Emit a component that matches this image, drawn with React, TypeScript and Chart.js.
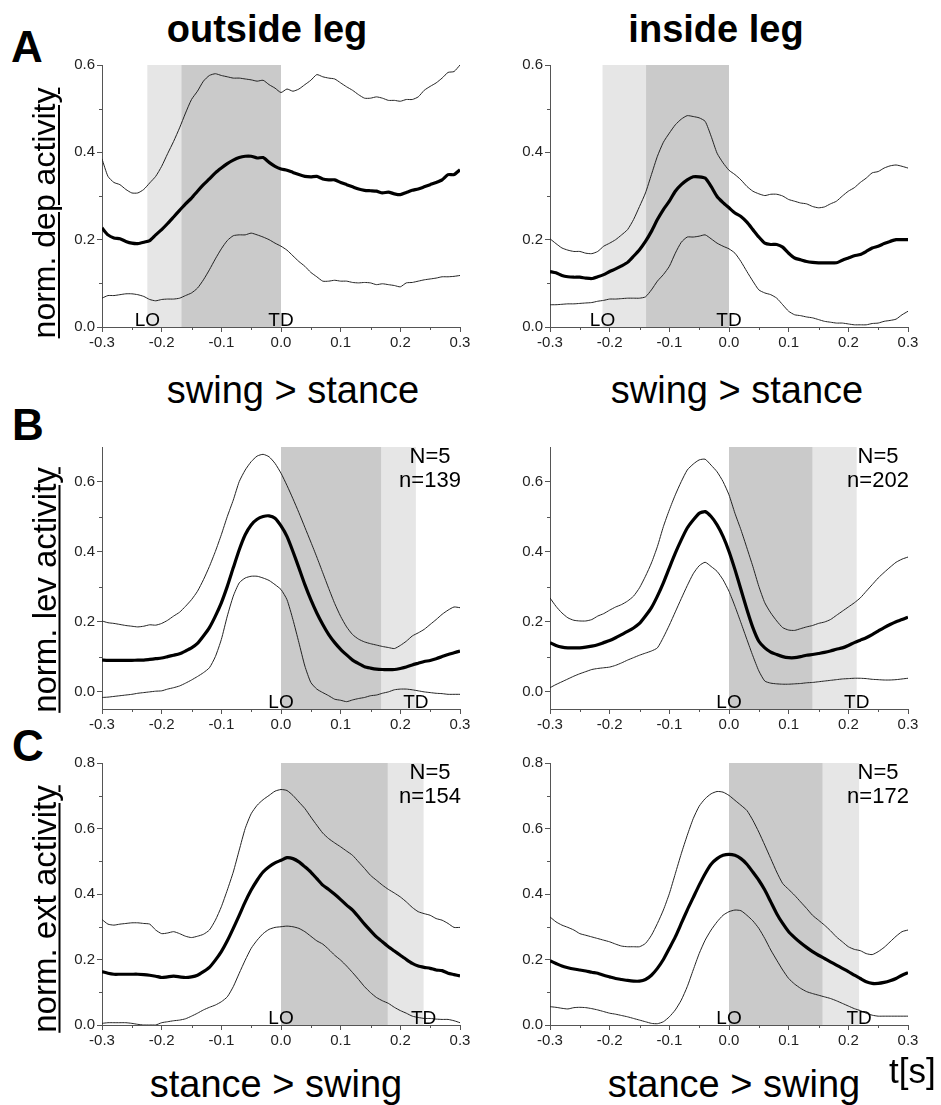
import React, { useEffect, useRef } from "react";
import { Chart, registerables } from "chart.js";
Chart.register(...registerables);

const FONT = '"Liberation Sans", Arial, sans-serif';

const TIME = [
  -0.30, -0.29, -0.28, -0.27, -0.26, -0.25, -0.24, -0.23, -0.22, -0.21,
  -0.20, -0.19, -0.18, -0.17, -0.16, -0.15, -0.14, -0.13, -0.12, -0.11,
  -0.10, -0.09, -0.08, -0.07, -0.06, -0.05, -0.04, -0.03, -0.02, -0.01,
  0.00, 0.01, 0.02, 0.03, 0.04, 0.05, 0.06, 0.07, 0.08, 0.09,
  0.10, 0.11, 0.12, 0.13, 0.14, 0.15, 0.16, 0.17, 0.18, 0.19,
  0.20, 0.21, 0.22, 0.23, 0.24, 0.25, 0.26, 0.27, 0.28, 0.29, 0.30,
];

const X_MAJOR = [-0.3, -0.2, -0.1, 0.0, 0.1, 0.2, 0.3];
const X_MINOR = [-0.25, -0.15, -0.05, 0.05, 0.15, 0.25];
const Y_MAJOR_06 = [0.0, 0.2, 0.4, 0.6];
const Y_MINOR_06 = [0.1, 0.3, 0.5];
const Y_MAJOR_08 = [0.0, 0.2, 0.4, 0.6, 0.8];
const Y_MINOR_08 = [0.1, 0.3, 0.5, 0.7];

// ---- A: depressor, swing > stance ----
const A_OUT_MEAN = [
  0.227, 0.211, 0.204, 0.202, 0.196, 0.192, 0.191, 0.194, 0.198, 0.211,
  0.223, 0.237, 0.252, 0.267, 0.282, 0.295, 0.311, 0.326, 0.339, 0.353,
  0.364, 0.374, 0.382, 0.388, 0.391, 0.391, 0.387, 0.388, 0.377, 0.368,
  0.362, 0.359, 0.354, 0.349, 0.345, 0.344, 0.345, 0.339, 0.337, 0.337,
  0.331, 0.326, 0.321, 0.316, 0.313, 0.312, 0.311, 0.307, 0.309, 0.305,
  0.303, 0.308, 0.313, 0.316, 0.321, 0.326, 0.331, 0.337, 0.349, 0.349, 0.360,
];
const A_OUT_UPPER = [
  0.385, 0.345, 0.331, 0.326, 0.315, 0.307, 0.307, 0.315, 0.330, 0.345,
  0.368, 0.397, 0.425, 0.456, 0.490, 0.521, 0.540, 0.563, 0.576, 0.580,
  0.576, 0.573, 0.570, 0.570, 0.568, 0.566, 0.563, 0.565, 0.555, 0.547,
  0.537, 0.545, 0.540, 0.545, 0.555, 0.565, 0.578, 0.573, 0.570, 0.568,
  0.559, 0.550, 0.542, 0.532, 0.524, 0.524, 0.527, 0.524, 0.519, 0.519,
  0.517, 0.521, 0.521, 0.527, 0.542, 0.551, 0.559, 0.570, 0.583, 0.585, 0.600,
];
const A_OUT_LOWER = [
  0.066, 0.072, 0.072, 0.074, 0.076, 0.076, 0.074, 0.070, 0.063, 0.060,
  0.063, 0.064, 0.064, 0.066, 0.072, 0.078, 0.089, 0.108, 0.131, 0.156,
  0.179, 0.198, 0.209, 0.211, 0.211, 0.215, 0.211, 0.206, 0.200, 0.192,
  0.185, 0.176, 0.163, 0.150, 0.139, 0.125, 0.115, 0.105, 0.105, 0.107,
  0.105, 0.105, 0.102, 0.101, 0.102, 0.101, 0.097, 0.099, 0.097, 0.095,
  0.092, 0.101, 0.102, 0.105, 0.108, 0.110, 0.112, 0.115, 0.115, 0.116, 0.118,
];
const A_IN_MEAN = [
  0.127, 0.124, 0.118, 0.115, 0.114, 0.114, 0.112, 0.111, 0.115, 0.120,
  0.127, 0.133, 0.140, 0.148, 0.162, 0.177, 0.196, 0.219, 0.246, 0.269,
  0.288, 0.311, 0.326, 0.337, 0.344, 0.344, 0.341, 0.322, 0.299, 0.285,
  0.273, 0.261, 0.253, 0.240, 0.223, 0.206, 0.192, 0.189, 0.189, 0.183,
  0.169, 0.158, 0.154, 0.150, 0.148, 0.147, 0.147, 0.147, 0.147, 0.153,
  0.158, 0.163, 0.166, 0.173, 0.181, 0.185, 0.191, 0.196, 0.200, 0.200, 0.200,
];
const A_IN_UPPER = [
  0.202, 0.191, 0.181, 0.176, 0.173, 0.173, 0.169, 0.168, 0.173, 0.185,
  0.192, 0.200, 0.211, 0.223, 0.246, 0.276, 0.307, 0.349, 0.391, 0.423,
  0.444, 0.463, 0.476, 0.484, 0.482, 0.479, 0.471, 0.437, 0.398, 0.376,
  0.359, 0.349, 0.337, 0.322, 0.311, 0.305, 0.301, 0.304, 0.304, 0.300,
  0.292, 0.288, 0.284, 0.282, 0.276, 0.273, 0.275, 0.282, 0.288, 0.300,
  0.311, 0.319, 0.331, 0.341, 0.353, 0.356, 0.364, 0.369, 0.371, 0.368, 0.364,
];
const A_IN_LOWER = [
  0.051, 0.051, 0.052, 0.053, 0.053, 0.054, 0.055, 0.056, 0.059, 0.061,
  0.064, 0.064, 0.065, 0.066, 0.066, 0.066, 0.069, 0.085, 0.105, 0.120,
  0.139, 0.169, 0.194, 0.206, 0.206, 0.208, 0.211, 0.202, 0.192, 0.185,
  0.179, 0.169, 0.150, 0.127, 0.105, 0.085, 0.078, 0.074, 0.066, 0.051,
  0.036, 0.028, 0.026, 0.023, 0.021, 0.017, 0.013, 0.011, 0.009, 0.009,
  0.007, 0.005, 0.005, 0.005, 0.008, 0.009, 0.013, 0.015, 0.018, 0.028, 0.036,
];

// ---- B: levator, swing > stance ----
const B_OUT_MEAN = [
  0.090, 0.089, 0.089, 0.089, 0.089, 0.089, 0.090, 0.090, 0.092, 0.094,
  0.096, 0.100, 0.104, 0.108, 0.116, 0.125, 0.138, 0.159, 0.183, 0.216,
  0.254, 0.301, 0.354, 0.406, 0.449, 0.477, 0.493, 0.501, 0.503, 0.496,
  0.474, 0.444, 0.401, 0.354, 0.306, 0.263, 0.225, 0.192, 0.163, 0.140,
  0.121, 0.105, 0.090, 0.080, 0.071, 0.067, 0.064, 0.063, 0.063, 0.063,
  0.066, 0.070, 0.076, 0.081, 0.086, 0.089, 0.094, 0.100, 0.106, 0.111, 0.116,
];
const B_OUT_UPPER = [
  0.202, 0.197, 0.195, 0.192, 0.189, 0.187, 0.185, 0.187, 0.191, 0.190,
  0.195, 0.204, 0.216, 0.227, 0.244, 0.263, 0.287, 0.320, 0.358, 0.401,
  0.449, 0.501, 0.548, 0.601, 0.634, 0.658, 0.674, 0.679, 0.672, 0.653,
  0.625, 0.590, 0.552, 0.512, 0.470, 0.428, 0.385, 0.340, 0.295, 0.252,
  0.215, 0.185, 0.163, 0.150, 0.142, 0.137, 0.133, 0.129, 0.126, 0.123,
  0.132, 0.144, 0.159, 0.168, 0.178, 0.192, 0.206, 0.221, 0.233, 0.242, 0.240,
];
const B_OUT_LOWER = [
  -0.017, -0.016, -0.014, -0.012, -0.010, -0.008, -0.005, -0.003, -0.001, 0.001,
  0.002, 0.007, 0.011, 0.016, 0.024, 0.033, 0.043, 0.054, 0.068, 0.100,
  0.149, 0.216, 0.273, 0.311, 0.325, 0.330, 0.330, 0.325, 0.318, 0.306,
  0.292, 0.263, 0.206, 0.140, 0.073, 0.026, 0.007, -0.003, -0.012, -0.022,
  -0.025, -0.029, -0.024, -0.020, -0.017, -0.012, -0.010, -0.005, -0.001, 0.005,
  0.007, 0.007, 0.005, 0.002, -0.001, -0.003, -0.005, -0.006, -0.008, -0.008, -0.008,
];
const B_IN_MEAN = [
  0.140, 0.132, 0.127, 0.125, 0.125, 0.125, 0.127, 0.130, 0.134, 0.140,
  0.146, 0.154, 0.163, 0.172, 0.182, 0.195, 0.216, 0.240, 0.273, 0.311,
  0.354, 0.396, 0.434, 0.468, 0.491, 0.510, 0.515, 0.501, 0.477, 0.444,
  0.401, 0.349, 0.292, 0.235, 0.183, 0.144, 0.125, 0.113, 0.106, 0.100,
  0.097, 0.097, 0.100, 0.104, 0.106, 0.109, 0.112, 0.116, 0.121, 0.125,
  0.132, 0.140, 0.147, 0.154, 0.163, 0.173, 0.183, 0.192, 0.200, 0.206, 0.213,
];
const B_IN_UPPER = [
  0.268, 0.244, 0.225, 0.211, 0.204, 0.202, 0.202, 0.206, 0.216, 0.223,
  0.233, 0.242, 0.249, 0.259, 0.273, 0.297, 0.330, 0.368, 0.415, 0.472,
  0.520, 0.563, 0.601, 0.634, 0.651, 0.663, 0.665, 0.648, 0.629, 0.601,
  0.563, 0.510, 0.463, 0.411, 0.358, 0.301, 0.254, 0.225, 0.202, 0.183,
  0.176, 0.175, 0.180, 0.185, 0.189, 0.195, 0.199, 0.206, 0.218, 0.230,
  0.242, 0.254, 0.268, 0.287, 0.306, 0.325, 0.341, 0.356, 0.370, 0.379, 0.385,
];
const B_IN_LOWER = [
  0.011, 0.020, 0.028, 0.036, 0.044, 0.051, 0.057, 0.063, 0.066, 0.068,
  0.070, 0.075, 0.082, 0.090, 0.097, 0.104, 0.110, 0.116, 0.125, 0.155,
  0.190, 0.228, 0.266, 0.303, 0.337, 0.360, 0.370, 0.358, 0.344, 0.320,
  0.287, 0.244, 0.197, 0.149, 0.102, 0.059, 0.030, 0.024, 0.022, 0.021,
  0.021, 0.022, 0.023, 0.025, 0.026, 0.028, 0.030, 0.032, 0.034, 0.036,
  0.037, 0.038, 0.038, 0.037, 0.035, 0.034, 0.033, 0.033, 0.034, 0.036, 0.038,
];

// ---- C: extensor, stance > swing ----
const C_OUT_MEAN = [
  0.163, 0.158, 0.155, 0.155, 0.155, 0.155, 0.155, 0.154, 0.152, 0.149,
  0.145, 0.147, 0.149, 0.147, 0.145, 0.147, 0.152, 0.163, 0.176, 0.198,
  0.224, 0.257, 0.295, 0.335, 0.376, 0.412, 0.442, 0.467, 0.483, 0.495,
  0.503, 0.511, 0.508, 0.498, 0.483, 0.467, 0.447, 0.427, 0.414, 0.399,
  0.383, 0.366, 0.351, 0.330, 0.308, 0.288, 0.269, 0.254, 0.239, 0.226,
  0.213, 0.200, 0.188, 0.180, 0.176, 0.173, 0.168, 0.166, 0.158, 0.154, 0.150,
];
const C_OUT_UPPER = [
  0.322, 0.308, 0.305, 0.308, 0.310, 0.312, 0.312, 0.310, 0.308, 0.290,
  0.279, 0.281, 0.285, 0.279, 0.271, 0.267, 0.271, 0.277, 0.290, 0.320,
  0.361, 0.412, 0.467, 0.534, 0.600, 0.645, 0.671, 0.688, 0.701, 0.714,
  0.719, 0.716, 0.701, 0.681, 0.661, 0.635, 0.610, 0.586, 0.569, 0.556,
  0.544, 0.531, 0.518, 0.498, 0.478, 0.457, 0.442, 0.427, 0.414, 0.403,
  0.391, 0.376, 0.359, 0.346, 0.340, 0.335, 0.325, 0.320, 0.310, 0.298, 0.298,
];
const C_OUT_LOWER = [
  0.005, 0.007, 0.007, 0.007, 0.007, 0.005, 0.002, 0.000, 0.000, 0.000,
  0.007, 0.010, 0.013, 0.015, 0.019, 0.027, 0.036, 0.046, 0.054, 0.061,
  0.071, 0.086, 0.117, 0.158, 0.198, 0.234, 0.259, 0.279, 0.292, 0.298,
  0.300, 0.302, 0.300, 0.295, 0.285, 0.271, 0.257, 0.247, 0.231, 0.213,
  0.198, 0.180, 0.160, 0.139, 0.117, 0.099, 0.084, 0.074, 0.066, 0.054,
  0.044, 0.036, 0.027, 0.023, 0.020, 0.020, 0.018, 0.017, 0.017, 0.013, 0.007,
];
const C_IN_MEAN = [
  0.196, 0.188, 0.180, 0.175, 0.171, 0.168, 0.165, 0.161, 0.158, 0.152,
  0.147, 0.142, 0.139, 0.136, 0.134, 0.134, 0.139, 0.152, 0.173, 0.200,
  0.234, 0.269, 0.310, 0.351, 0.389, 0.427, 0.462, 0.491, 0.508, 0.518,
  0.521, 0.518, 0.508, 0.491, 0.467, 0.442, 0.412, 0.376, 0.340, 0.310,
  0.285, 0.267, 0.251, 0.237, 0.224, 0.213, 0.203, 0.193, 0.183, 0.173,
  0.163, 0.152, 0.142, 0.132, 0.127, 0.127, 0.130, 0.135, 0.142, 0.152, 0.160,
];
const C_IN_UPPER = [
  0.330, 0.315, 0.305, 0.298, 0.290, 0.279, 0.274, 0.269, 0.264, 0.259,
  0.254, 0.247, 0.241, 0.239, 0.239, 0.239, 0.249, 0.274, 0.310, 0.351,
  0.401, 0.462, 0.523, 0.579, 0.630, 0.668, 0.691, 0.706, 0.713, 0.711,
  0.701, 0.686, 0.671, 0.655, 0.625, 0.589, 0.549, 0.508, 0.467, 0.432,
  0.414, 0.396, 0.376, 0.356, 0.335, 0.320, 0.305, 0.288, 0.269, 0.254,
  0.239, 0.231, 0.227, 0.218, 0.215, 0.224, 0.237, 0.254, 0.271, 0.285, 0.290,
];
const C_IN_LOWER = [
  0.056, 0.054, 0.051, 0.049, 0.053, 0.054, 0.053, 0.050, 0.046, 0.041,
  0.036, 0.033, 0.029, 0.025, 0.020, 0.015, 0.010, 0.005, 0.004, 0.010,
  0.025, 0.046, 0.076, 0.117, 0.168, 0.218, 0.259, 0.290, 0.315, 0.335,
  0.346, 0.351, 0.349, 0.335, 0.318, 0.295, 0.264, 0.229, 0.198, 0.168,
  0.142, 0.125, 0.112, 0.102, 0.096, 0.091, 0.086, 0.081, 0.074, 0.066,
  0.058, 0.050, 0.044, 0.036, 0.030, 0.027, 0.027, 0.027, 0.027, 0.027, 0.027,
];

// phase bands [start, end] in seconds
const A_OUT_LIGHT = [-0.224, -0.167];
const A_OUT_DARK = [-0.167, 0.0];
const A_IN_LIGHT = [-0.212, -0.139];
const A_IN_DARK = [-0.139, 0.0];
const B_OUT_DARK = [0.0, 0.168];
const B_OUT_LIGHT = [0.168, 0.226];
const B_IN_DARK = [0.0, 0.14];
const B_IN_LIGHT = [0.14, 0.214];
const C_OUT_DARK = [0.0, 0.179];
const C_OUT_LIGHT = [0.179, 0.239];
const C_IN_DARK = [0.0, 0.157];
const C_IN_LIGHT = [0.157, 0.218];

// event labels (label, time)
const A_OUT_EVENTS: [string, number][] = [["LO", -0.224], ["TD", 0.0]];
const A_IN_EVENTS: [string, number][] = [["LO", -0.212], ["TD", 0.0]];
const B_OUT_EVENTS: [string, number][] = [["LO", 0.0], ["TD", 0.226]];
const B_IN_EVENTS: [string, number][] = [["LO", 0.0], ["TD", 0.214]];
const C_OUT_EVENTS: [string, number][] = [["LO", 0.0], ["TD", 0.239]];
const C_IN_EVENTS: [string, number][] = [["LO", 0.0], ["TD", 0.218]];

const B_OUT_COUNT = ["N=5", "n=139"];
const B_IN_COUNT = ["N=5", "n=202"];
const C_OUT_COUNT = ["N=5", "n=154"];
const C_IN_COUNT = ["N=5", "n=172"];

type PanelCfg = {
  left: number; right: number; top: number; bottom: number;
  yMin: number; yMax: number; yMajor: number[]; yMinor: number[];
  mean: number[]; upper: number[]; lower: number[];
  light: number[]; dark: number[];
  events: [string, number][];
  count?: string[];
};

const PANELS: PanelCfg[] = [
  { left: 102, right: 460, top: 65, bottom: 327, yMin: 0, yMax: 0.6, yMajor: Y_MAJOR_06, yMinor: Y_MINOR_06,
    mean: A_OUT_MEAN, upper: A_OUT_UPPER, lower: A_OUT_LOWER, light: A_OUT_LIGHT, dark: A_OUT_DARK, events: A_OUT_EVENTS },
  { left: 550, right: 908, top: 65, bottom: 327, yMin: 0, yMax: 0.6, yMajor: Y_MAJOR_06, yMinor: Y_MINOR_06,
    mean: A_IN_MEAN, upper: A_IN_UPPER, lower: A_IN_LOWER, light: A_IN_LIGHT, dark: A_IN_DARK, events: A_IN_EVENTS },
  { left: 102, right: 460, top: 447, bottom: 709, yMin: -0.05, yMax: 0.7, yMajor: Y_MAJOR_06, yMinor: Y_MINOR_06,
    mean: B_OUT_MEAN, upper: B_OUT_UPPER, lower: B_OUT_LOWER, light: B_OUT_LIGHT, dark: B_OUT_DARK, events: B_OUT_EVENTS, count: B_OUT_COUNT },
  { left: 550, right: 908, top: 447, bottom: 709, yMin: -0.05, yMax: 0.7, yMajor: Y_MAJOR_06, yMinor: Y_MINOR_06,
    mean: B_IN_MEAN, upper: B_IN_UPPER, lower: B_IN_LOWER, light: B_IN_LIGHT, dark: B_IN_DARK, events: B_IN_EVENTS, count: B_IN_COUNT },
  { left: 102, right: 460, top: 763, bottom: 1025, yMin: 0, yMax: 0.8, yMajor: Y_MAJOR_08, yMinor: Y_MINOR_08,
    mean: C_OUT_MEAN, upper: C_OUT_UPPER, lower: C_OUT_LOWER, light: C_OUT_LIGHT, dark: C_OUT_DARK, events: C_OUT_EVENTS, count: C_OUT_COUNT },
  { left: 550, right: 908, top: 763, bottom: 1025, yMin: 0, yMax: 0.8, yMajor: Y_MAJOR_08, yMinor: Y_MINOR_08,
    mean: C_IN_MEAN, upper: C_IN_UPPER, lower: C_IN_LOWER, light: C_IN_LIGHT, dark: C_IN_DARK, events: C_IN_EVENTS, count: C_IN_COUNT },
];

const PAD_L = 50, PAD_T = 14, PAD_R = 16, PAD_B = 30;
const AXIS_COLOR = "#555";

function Panel({ cfg }: { cfg: PanelCfg }) {
  const ref = useRef<HTMLCanvasElement>(null);
  const w = cfg.right - cfg.left + PAD_L + PAD_R;
  const h = cfg.bottom - cfg.top + PAD_T + PAD_B;

  useEffect(() => {
    const canvas = ref.current;
    if (!canvas) return;
    const toPts = (arr: number[]) => TIME.map((t, i) => ({ x: t, y: arr[i] }));

    const decor = {
      id: "decor",
      beforeDraw(chart: any) {
        const { ctx, chartArea, scales } = chart;
        const x = scales.x;
        ctx.save();
        ctx.fillStyle = "#e6e6e6";
        const l0 = x.getPixelForValue(cfg.light[0]);
        const l1 = x.getPixelForValue(cfg.light[1]);
        ctx.fillRect(l0, chartArea.top, l1 - l0, chartArea.bottom - chartArea.top);
        ctx.fillStyle = "#cacaca";
        const d0 = x.getPixelForValue(cfg.dark[0]);
        const d1 = x.getPixelForValue(cfg.dark[1]);
        ctx.fillRect(d0, chartArea.top, d1 - d0, chartArea.bottom - chartArea.top);
        ctx.restore();
      },
      afterDatasetsDraw(chart: any) {
        const { ctx, chartArea, scales } = chart;
        const x = scales.x, y = scales.y;
        ctx.save();
        ctx.strokeStyle = AXIS_COLOR;
        ctx.lineWidth = 1;
        ctx.beginPath();
        X_MINOR.forEach((v) => {
          const px = Math.round(x.getPixelForValue(v)) + 0.5;
          ctx.moveTo(px, chartArea.bottom);
          ctx.lineTo(px, chartArea.bottom + 3);
        });
        cfg.yMinor.forEach((v) => {
          const py = Math.round(y.getPixelForValue(v)) + 0.5;
          ctx.moveTo(chartArea.left, py);
          ctx.lineTo(chartArea.left - 3, py);
        });
        ctx.stroke();

        ctx.fillStyle = "#000";
        ctx.font = `19px ${FONT}`;
        ctx.textAlign = "center";
        ctx.textBaseline = "alphabetic";
        cfg.events.forEach(([label, t]) => {
          ctx.fillText(label, x.getPixelForValue(t), chartArea.bottom - 1);
        });
        if (cfg.count) {
          ctx.font = `22px ${FONT}`;
          const cx = chartArea.right - 30;
          ctx.fillText(cfg.count[0], cx, chartArea.top + 16);
          ctx.fillText(cfg.count[1], cx, chartArea.top + 40);
        }
        ctx.restore();
      },
    };

    const tickFont = { family: FONT, size: 15 };
    const chart = new Chart(canvas, {
      type: "line",
      data: {
        datasets: [
          { data: toPts(cfg.upper), borderColor: "#222", borderWidth: 1, pointRadius: 0, tension: 0.2 },
          { data: toPts(cfg.lower), borderColor: "#222", borderWidth: 1, pointRadius: 0, tension: 0.2 },
          { data: toPts(cfg.mean), borderColor: "#000", borderWidth: 3.2, pointRadius: 0, tension: 0.2 },
        ],
      },
      options: {
        animation: false,
        responsive: false,
        events: [],
        layout: { padding: { top: PAD_T, right: PAD_R, left: 0, bottom: 0 } },
        plugins: { legend: { display: false }, tooltip: { enabled: false } },
        scales: {
          x: {
            type: "linear",
            min: -0.3,
            max: 0.3,
            afterBuildTicks: (s: any) => { s.ticks = X_MAJOR.map((v) => ({ value: v })); },
            afterFit: (s: any) => { s.height = PAD_B; },
            grid: { drawOnChartArea: false, drawTicks: true, tickLength: 5, color: AXIS_COLOR },
            border: { color: AXIS_COLOR, width: 1 },
            ticks: {
              color: "#222", font: tickFont, padding: 2, maxRotation: 0, autoSkip: false,
              callback: (v: any) => Number(v).toFixed(1),
            },
          },
          y: {
            type: "linear",
            min: cfg.yMin,
            max: cfg.yMax,
            afterBuildTicks: (s: any) => { s.ticks = cfg.yMajor.map((v) => ({ value: v })); },
            afterFit: (s: any) => { s.width = PAD_L; },
            grid: { drawOnChartArea: false, drawTicks: true, tickLength: 5, color: AXIS_COLOR },
            border: { color: AXIS_COLOR, width: 1 },
            ticks: {
              color: "#222", font: tickFont, padding: 2, autoSkip: false,
              callback: (v: any) => Number(v).toFixed(1),
            },
          },
        },
      } as any,
      plugins: [decor],
    });
    return () => chart.destroy();
  }, [cfg]);

  return (
    <canvas
      ref={ref}
      width={w}
      height={h}
      style={{ position: "absolute", left: cfg.left - PAD_L, top: cfg.top - PAD_T, width: w, height: h }}
    />
  );
}

function Label({ text, x, baseline, size, weight = 400, align = "left" }:
  { text: string; x: number; baseline: number; size: number; weight?: number; align?: "left" | "center" }) {
  return (
    <div
      style={{
        position: "absolute",
        left: x,
        top: baseline - 0.8465 * size,
        fontFamily: FONT,
        fontSize: size,
        fontWeight: weight,
        lineHeight: `${size}px`,
        whiteSpace: "nowrap",
        color: "#000",
        transform: align === "center" ? "translateX(-50%)" : undefined,
      }}
    >
      {text}
    </div>
  );
}

function YLabel({ text, baselineX, cy, size }: { text: string; baselineX: number; cy: number; size: number }) {
  const cx = baselineX - 0.3465 * size;
  return (
    <div
      style={{
        position: "absolute",
        left: cx,
        top: cy,
        fontFamily: FONT,
        fontSize: size,
        lineHeight: `${size}px`,
        whiteSpace: "nowrap",
        textDecoration: "underline",
        textDecorationThickness: "1.5px",
        textUnderlineOffset: "3px",
        color: "#000",
        transform: "translate(-50%, -50%) rotate(-90deg)",
      }}
    >
      {text}
    </div>
  );
}

export default function App() {
  return (
    <div style={{ position: "absolute", left: 0, top: 0, width: 941, height: 1105, background: "#fff", overflow: "hidden" }}>
      {PANELS.map((p, i) => <Panel key={i} cfg={p} />)}

      <Label text="A" x={11} baseline={62} size={44} weight={700} />
      <Label text="B" x={12} baseline={440} size={44} weight={700} />
      <Label text="C" x={12} baseline={761} size={44} weight={700} />

      <Label text="outside leg" x={267} baseline={42} size={38} weight={700} align="center" />
      <Label text="inside leg" x={716} baseline={42} size={38} weight={700} align="center" />

      <Label text="swing > stance" x={293} baseline={403} size={38} align="center" />
      <Label text="swing > stance" x={737} baseline={403} size={38} align="center" />

      <Label text="stance > swing" x={276} baseline={1097} size={38} align="center" />
      <Label text="stance > swing" x={734} baseline={1097} size={38} align="center" />

      <Label text="t[s]" x={889} baseline={1083} size={35} />

      <YLabel text="norm. dep activity" baselineX={55} cy={213} size={32} />
      <YLabel text="norm. lev activity" baselineX={55} cy={590} size={33} />
      <YLabel text="norm. ext activity" baselineX={55} cy={909} size={33} />
    </div>
  );
}
